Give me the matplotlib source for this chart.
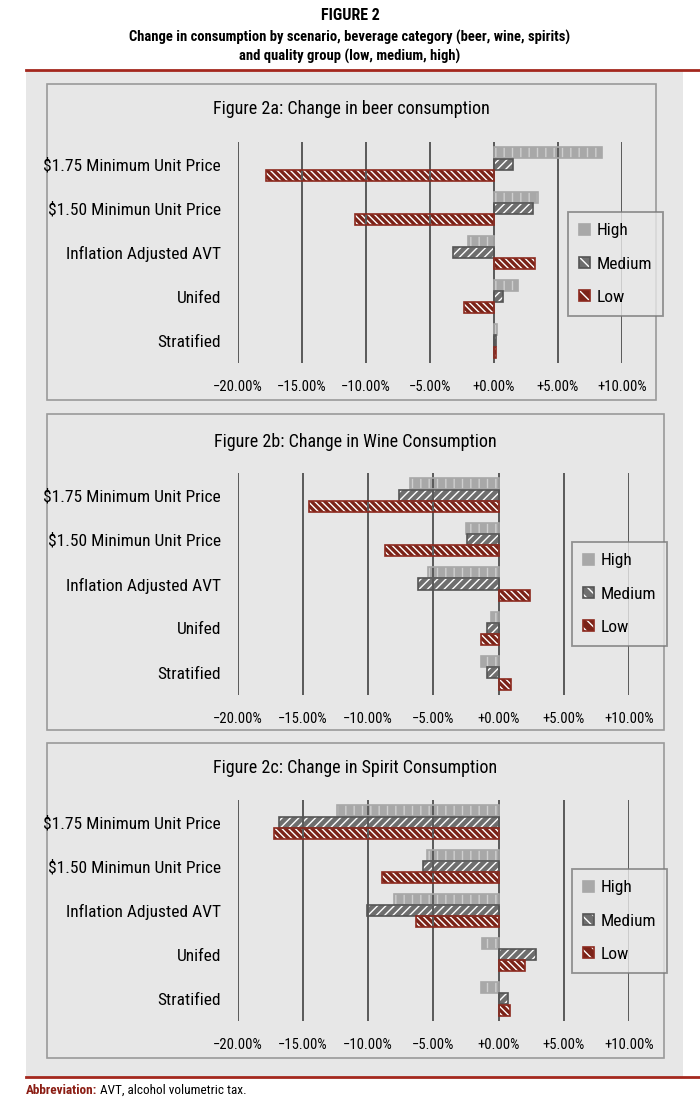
import matplotlib
matplotlib.use("Agg")
import matplotlib.pyplot as plt
from matplotlib import font_manager
from matplotlib.patches import Rectangle, Patch
from matplotlib.legend_handler import HandlerTuple
from matplotlib.lines import Line2D

# pick a narrow font if one is installed
names = {f.name for f in font_manager.fontManager.ttflist}
narrow = [n for n in ["Liberation Sans Narrow", "DejaVu Sans Condensed", "Roboto Condensed"] if n in names]
plt.rcParams["font.family"] = narrow + ["DejaVu Sans"]
plt.rcParams["hatch.linewidth"] = 1.0

# data (percent change)
scenarios = ["$1.75 Minimum Unit Price", "$1.50 Minimun Unit Price",
             "Inflation Adjusted AVT", "Unifed", "Stratified"]
groups = ["High", "Medium", "Low"]

beer_high = [8.5, 3.45, -2.0, 1.9, 0.25]
beer_medium = [1.5, 3.1, -3.15, 0.7, 0.2]
beer_low = [-17.8, -10.8, 3.25, -2.3, 0.15]

wine_high = [-6.8, -2.5, -5.4, -0.6, -1.35]
wine_medium = [-7.6, -2.4, -6.2, -0.85, -0.85]
wine_low = [-14.5, -8.7, 2.45, -1.35, 0.95]

spirit_high = [-12.4, -5.5, -8.0, -1.25, -1.35]
spirit_medium = [-16.8, -5.8, -10.1, 2.9, 0.7]
spirit_low = [-17.2, -8.9, -6.3, 2.05, 0.85]

titles = ["Figure 2a: Change in beer consumption",
          "Figure 2b: Change in Wine Consumption",
          "Figure 2c: Change in Spirit Consumption"]
ticks = [-20, -15, -10, -5, 0, 5, 10]
tick_labels = ["\u221220.00%", "\u221215.00%", "\u221210.00%", "\u22125.00%",
               "+0.00%", "+5.00%", "+10.00%"]

W, H = 700, 1104
BG = "#e7e7e7"
RED = "#7b2318"
RED_EDGE = "#8c2a1f"
MED = "#6e6e6e"
MED_EDGE = "#555555"
HIGH = "#a8a8a8"
GRID = "#5a5a5a"

styles = {
    "High": dict(fc=HIGH, hatch="||", hc="#cfcfcf", ec=HIGH, leg_hatch=None),
    "Medium": dict(fc=MED, hatch="////", hc="white", ec=MED_EDGE, leg_hatch="\\\\\\"),
    "Low": dict(fc=RED, hatch="\\\\\\\\\\", hc="white", ec=RED_EDGE, leg_hatch="\\\\\\"),
}


def fx(x):
    return x / W


def fy(y):
    return 1 - y / H


fig = plt.figure(figsize=(7, 11.04), dpi=100)
fig.patch.set_facecolor("white")

# header
fig.text(0.5, fy(15), "FIGURE 2", ha="center", va="center", fontsize=11.5, fontweight="bold")
fig.text(0.5, fy(37), "Change in consumption by scenario, beverage category (beer, wine, spirits)",
         ha="center", va="center", fontsize=10.5, fontweight="bold")
fig.text(0.5, fy(56), "and quality group (low, medium, high)",
         ha="center", va="center", fontsize=10.5, fontweight="bold")

# grey page area and red rules
fig.patches.append(Rectangle((fx(26), fy(1077)), fx(683) - fx(26), fy(71) - fy(1077),
                             transform=fig.transFigure, fc=BG, ec="none", zorder=-3))
fig.add_artist(Line2D([fx(26), 1], [fy(70), fy(70)], color="#a4281e", lw=2))
fig.add_artist(Line2D([fx(26), 1], [fy(1077), fy(1077)], color="#a4281e", lw=2))

fig.text(fx(26), fy(1090), "Abbreviation:", ha="left", va="center", fontsize=9.5,
         fontweight="bold", color="#8b1d14")
fig.text(fx(100), fy(1090), "AVT, alcohol volumetric tax.", ha="left", va="center", fontsize=9.5)

panels = [
    dict(box=(47, 84, 656, 400), ax=(237.6, 142, 621.7, 363), title_y=109,
         leg=(568, 212), data=(beer_high, beer_medium, beer_low)),
    dict(box=(47, 414, 664, 730), ax=(237.6, 473, 629, 695), title_y=442,
         leg=(572, 542), data=(wine_high, wine_medium, wine_low)),
    dict(box=(47, 743, 664, 1058), ax=(237.6, 800, 629, 1021), title_y=768,
         leg=(572, 869), data=(spirit_high, spirit_medium, spirit_low)),
]

ypos = list(range(len(scenarios)))
offsets = [-0.255, 0.0, 0.255]
bar_h = 0.25

for p, title in zip(panels, titles):
    x0, y0, x1, y1 = p["box"]
    fig.patches.append(Rectangle((fx(x0), fy(y1)), fx(x1) - fx(x0), fy(y0) - fy(y1),
                                 transform=fig.transFigure, fc=BG, ec="#9a9a9a", lw=1.2, zorder=-2))
    fig.text((fx(x0) + fx(x1)) / 2, fy(p["title_y"]), title, ha="center", va="center",
             fontsize=13)

    a0, b0, a1, b1 = p["ax"]
    ax = fig.add_axes([fx(a0), fy(b1), fx(a1) - fx(a0), fy(b0) - fy(b1)])
    ax.set_facecolor("none")
    for s in ax.spines.values():
        s.set_visible(False)

    handles = []
    for g, vals, off in zip(groups, p["data"], offsets):
        st = styles[g]
        yy = [y + off for y in ypos]
        ax.barh(yy, vals, height=bar_h, color=st["fc"], edgecolor=st["hc"],
                hatch=st["hatch"], linewidth=0, zorder=2)
        ax.barh(yy, vals, height=bar_h, color="none", edgecolor=st["ec"],
                linewidth=1.2, zorder=3)
        handles.append((Patch(fc=st["fc"], ec=st["hc"], hatch=st["leg_hatch"], lw=0),
                        Patch(fc="none", ec=st["ec"], lw=1.2)))

    ax.vlines(ticks, -0.5, len(scenarios) - 0.5, color=GRID, lw=1.4, zorder=2.5)
    ax.set_xlim(-20, 10)
    ax.set_ylim(len(scenarios) - 0.5, -0.5)
    ax.set_xticks(ticks)
    ax.set_xticklabels(tick_labels, fontsize=10.5)
    ax.set_yticks(ypos)
    ax.set_yticklabels(scenarios, fontsize=12.5)
    ax.tick_params(length=0)
    ax.tick_params(axis="x", pad=12)
    ax.tick_params(axis="y", pad=12)

    lx, ly = p["leg"]
    leg = fig.legend(handles, groups, handler_map={tuple: HandlerTuple(ndivide=1, pad=0)},
                     loc="upper left", bbox_to_anchor=(fx(lx), fy(ly)),
                     bbox_transform=fig.transFigure, fontsize=12.5, frameon=True,
                     fancybox=False, handlelength=0.6, handleheight=0.6,
                     labelspacing=1.05, borderpad=0.65, handletextpad=0.4,
                     borderaxespad=0)
    leg.get_frame().set_facecolor(BG)
    leg.get_frame().set_edgecolor("#7a7a7a")
    leg.get_frame().set_linewidth(1.3)

fig.savefig("out.png", dpi=100, facecolor=fig.get_facecolor())
